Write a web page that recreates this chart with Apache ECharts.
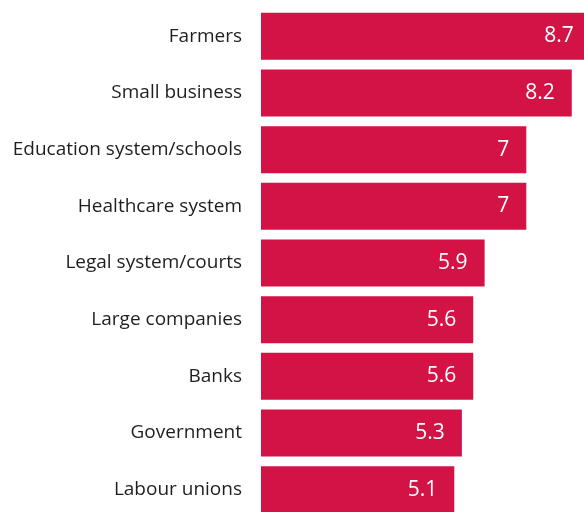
<!DOCTYPE html>
<html>
<head>
<meta charset="utf-8">
<script src="https://cdn.jsdelivr.net/npm/echarts@6/dist/echarts.min.js"></script>
<style>html,body{margin:0;padding:0;background:#fff}#c{width:584px;height:512px}</style>
</head>
<body>
<div id="c"></div>
<script>
var categories = ["Farmers","Small business","Education system/schools","Healthcare system","Legal system/courts","Large companies","Banks","Government","Labour unions"];
var values = [8.7, 8.2, 7, 7, 5.9, 5.6, 5.6, 5.3, 5.1];

var chart = echarts.init(document.getElementById('c'));
chart.setOption({
  animation: false,
  grid: {left: 261, width: 379, top: 8, height: 510, containLabel: false, outerBoundsMode: 'none'},
  xAxis: {type: 'value', min: 0, max: 10, show: false},
  yAxis: {
    type: 'category', data: categories, inverse: true,
    axisLine: {show: false}, axisTick: {show: false},
    axisLabel: {margin: 19, fontSize: 19, color: '#1e1e1e', fontFamily: 'Open Sans'}
  },
  series: [{
    type: 'bar', data: values, barCategoryGap: '17%',
    itemStyle: {color: '#D31245'},
    label: {show: true, position: 'insideRight', distance: 17, color: '#fff', fontSize: 21, fontWeight: 500, fontFamily: 'Open Sans'}
  }]
});
</script>
</body>
</html>
